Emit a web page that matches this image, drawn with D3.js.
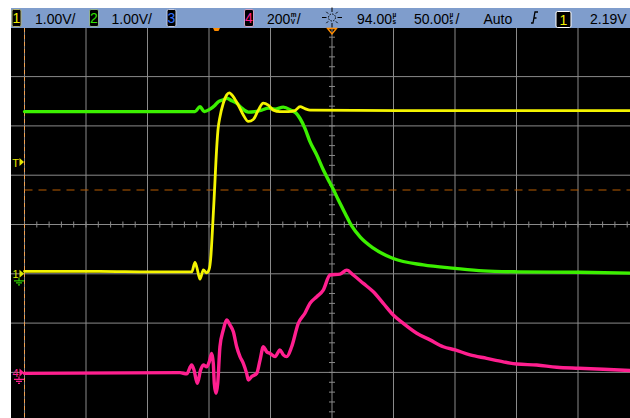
<!DOCTYPE html>
<html>
<head>
<meta charset="utf-8">
<script src="https://cdn.jsdelivr.net/npm/d3@7"></script>
<style>
  html, body { margin: 0; padding: 0; background: #fff; }
  svg { display: block; }
  text { font-family: "Liberation Sans", Arial, sans-serif; }
</style>
</head>
<body>
<div id="scope"></div>
<script>
// time in microseconds relative to screen centre, 50 us/div
const ch1Time = [-250, -189, -148, -114, -111.4, -109.8, -107.3, -104.6, -101.9, -100, -98.4, -97.2, -95.9, -95.1, -94.3, -92.7, -91.1, -88.4, -85.6, -83.5, -80.2, -76.2, -72.1, -68, -64, -59.9, -55.9, -51.8, -47.7, -42.3, -35.5, -30.1, -26, -22, -17.9, 55, 137, 250];
const ch1Volts = [0.05, 0.05, 0.04, 0.04, 0.23, 0.12, -0.11, 0.08, 0.02, 0.08, 0.38, 0.89, 1.5, 1.9, 2.31, 2.92, 3.18, 3.46, 3.63, 3.67, 3.59, 3.42, 3.22, 3.09, 3.13, 3.32, 3.46, 3.42, 3.32, 3.29, 3.29, 3.31, 3.39, 3.35, 3.32, 3.31, 3.31, 3.31];

const ch2Time = [-250, -148, -111.4, -107.3, -103.9, -99.2, -95.1, -92.4, -88.4, -85.6, -81.5, -77.5, -73.4, -68, -62.6, -57.2, -51.8, -46.3, -39.6, -32.8, -29.3, -26, -22, -17.9, -12.4, -7.1, -1.6, 1.1, 5.1, 10.6, 16, 22.8, 33.6, 49.8, 74.2, 100.2, 123, 150.4, 200.6, 250];
const ch2Volts = [3.29, 3.29, 3.29, 3.39, 3.29, 3.34, 3.42, 3.49, 3.53, 3.56, 3.51, 3.46, 3.36, 3.28, 3.29, 3.32, 3.36, 3.34, 3.38, 3.31, 3.26, 3.15, 2.95, 2.68, 2.41, 2.11, 1.84, 1.71, 1.5, 1.23, 0.97, 0.75, 0.52, 0.31, 0.18, 0.11, 0.06, 0.04, 0.03, 0.01];

const ch4Time = [-250, -123.6, -118.1, -114.1, -112.2, -109.5, -106.8, -104.6, -101.9, -99.8, -97.8, -96.5, -95.7, -94.3, -92.9, -91.1, -88.4, -85.6, -82.9, -80.2, -77.5, -74.8, -72.1, -69.4, -68, -65.3, -61.2, -58.5, -55.8, -53.1, -50.4, -46.3, -42.3, -39.6, -36.8, -32.8, -27.4, -22, -17.9, -12.4, -7.1, -1.6, 6.5, 12, 17.3, 25.5, 33.6, 41.7, 49.8, 58, 68.9, 79.7, 90.5, 100.2, 112.2, 125.8, 139.3, 150.4, 166.4, 182.7, 200.6, 220.6, 250];
const ch4MilliVolts = [-4, -1, -6, 30, 10, -44, 10, 30, 23, 43, 77, 37, -44, -85, -44, 104, 172, 213, 192, 165, 104, 64, 37, -4, -31, -17, -4, 50, 104, 84, 77, 64, 91, 71, 64, 104, 199, 240, 280, 307, 334, 395, 399, 415, 395, 361, 327, 280, 233, 199, 159, 132, 104, 91, 71, 57, 43, 34, 30, 21, 17, 13, 6];

// header readout: text, stacked unit (top/bottom), trailing slash
const headerTexts = [
  { text: "1.00V/", x: 35 },
  { text: "1.00V/", x: 111.5 },
  { text: "200", x: 267, unit: ["m", "V"], slash: true },
  { text: "94.00", x: 357, unit: ["µ", "s"] },
  { text: "50.00", x: 414, unit: ["µ", "s"], slash: true },
  { text: "Auto", x: 483.5 },
  { text: "2.19V", x: 590 }
];

const W = 630, H = 418;
const svg = d3.select("#scope").append("svg").attr("width", W).attr("height", H);

svg.append("rect").attr("width", W).attr("height", H).attr("fill", "#fff");
svg.append("rect").attr("x", 11).attr("y", 28).attr("width", W - 11).attr("height", H - 28).attr("fill", "#000");

// scales: 10 x 50us horizontally, 8 divisions vertically
const xScale = d3.scaleLinear().domain([-250, 250]).range([24.5, 639.5]);
const yDiv = d3.scaleLinear().domain([-4, 4]).range([421.7, 27.3]);

const grid = svg.append("g");
d3.range(-5, 6).forEach(i => {
  grid.append("line")
    .attr("x1", xScale(i * 50)).attr("x2", xScale(i * 50))
    .attr("y1", 28).attr("y2", H)
    .attr("stroke", "#8a8a8a").attr("stroke-width", 1);
});
d3.range(-4, 5).forEach(i => {
  grid.append("line")
    .attr("x1", 11).attr("x2", W)
    .attr("y1", yDiv(i)).attr("y2", yDiv(i))
    .attr("stroke", "#8a8a8a").attr("stroke-width", 1);
});
// minor ticks on centre axes
d3.range(-25, 26).forEach(i => {
  const px = xScale(i * 10);
  grid.append("line").attr("x1", px).attr("x2", px)
    .attr("y1", yDiv(0) - 3).attr("y2", yDiv(0) + 3)
    .attr("stroke", "#8a8a8a");
});
d3.range(-20, 21).forEach(i => {
  const py = yDiv(i / 5);
  grid.append("line").attr("x1", xScale(0) - 3).attr("x2", xScale(0) + 3)
    .attr("y1", py).attr("y2", py)
    .attr("stroke", "#8a8a8a");
});

// left edge dashed orange (time reference) and trigger level line
svg.append("line").attr("x1", xScale(-250)).attr("x2", xScale(-250))
  .attr("y1", 28).attr("y2", H)
  .attr("stroke", "#f0a050").attr("stroke-width", 1).attr("stroke-dasharray", "4,3");
svg.append("line").attr("x1", 24.5).attr("x2", W)
  .attr("y1", 190).attr("y2", 190)
  .attr("stroke", "#b85c00").attr("stroke-width", 1.2).attr("stroke-dasharray", "8,6");

// traces
function trace(times, vals, toDiv, color, width) {
  const pts = times.map((t, i) => [t, toDiv(vals[i])]);
  const line = d3.line()
    .x(d => xScale(d[0]))
    .y(d => yDiv(d[1]))
    .curve(d3.curveMonotoneX);
  svg.append("path").datum(pts)
    .attr("d", line)
    .attr("fill", "none")
    .attr("stroke", color)
    .attr("stroke-width", width)
    .attr("stroke-linejoin", "round")
    .attr("stroke-linecap", "round");
}

trace(ch4Time, ch4MilliVolts, v => v / 200 - 3, "#ff1f8f", 3.4);
trace(ch2Time, ch2Volts, v => v / 1 - 1, "#3cf000", 3.4);
trace(ch1Time, ch1Volts, v => v / 1 - 1, "#f4f400", 2.8);

// header bar
svg.append("rect").attr("x", 11).attr("y", 8).attr("width", W - 11).attr("height", 20).attr("fill", "#7f9dcc");

function chanBox(x, y, w, h, label, color, border) {
  svg.append("rect").attr("x", x).attr("y", y).attr("width", w).attr("height", h)
    .attr("rx", 1.5).attr("fill", "#000").attr("stroke", border).attr("stroke-width", 1);
  svg.append("text").attr("x", x + w / 2).attr("y", y + h / 2 + 5)
    .attr("text-anchor", "middle").attr("font-size", 14).attr("fill", color).text(label);
}
chanBox(12, 9.5, 9, 17, "1", "#f0f000", "#b0b070");
chanBox(89.5, 9.5, 9, 17, "2", "#30e000", "#90b090");
chanBox(167, 9.5, 9, 17, "3", "#3070ff", "#c0c8e0");
chanBox(244.5, 9.5, 9, 17, "4", "#ff2090", "#d0a0c0");
chanBox(556, 11.5, 15, 16, "1", "#f0f000", "#ffffff");

headerTexts.forEach(h => {
  const t = svg.append("text").attr("x", h.x).attr("y", 24).attr("font-size", 14).attr("fill", "#000").text(h.text);
  if (h.unit) {
    const end = h.x + t.node().getComputedTextLength() + 0.5;
    svg.append("text").attr("x", end).attr("y", 17).attr("font-size", 6.5).attr("font-weight", "bold").text(h.unit[0]);
    svg.append("text").attr("x", end).attr("y", 24).attr("font-size", 6.5).attr("font-weight", "bold").text(h.unit[1]);
    if (h.slash) {
      svg.append("text").attr("x", end + 6).attr("y", 24).attr("font-size", 14).text("/");
    }
  }
});

// trigger position (sun) icon
const sun = svg.append("g").attr("transform", "translate(332,17.5)");
sun.append("circle").attr("r", 3.5).attr("fill", "none").attr("stroke", "#000").attr("stroke-dasharray", "1.5,1.2");
d3.range(8).forEach(i => {
  const a = i * Math.PI / 4;
  sun.append("line")
    .attr("x1", Math.cos(a) * 5.5).attr("y1", Math.sin(a) * 5.5)
    .attr("x2", Math.cos(a) * (i % 2 ? 8 : 10)).attr("y2", Math.sin(a) * (i % 2 ? 8 : 10))
    .attr("stroke", "#000").attr("stroke-width", 1);
});

// trigger slope icon
svg.append("path").attr("d", "M531,23 L533,23 L535,12 L538,12 M533.5,18 L536.5,18")
  .attr("fill", "none").attr("stroke", "#000").attr("stroke-width", 1.3);

// top markers
svg.append("path").attr("d", "M213,28 L220,28 L218.5,31 L214.5,31 Z").attr("fill", "#ff8c00");
svg.append("path").attr("d", "M327.5,28.5 L336.5,28.5 L332,34 Z").attr("fill", "none").attr("stroke", "#ff8c00").attr("stroke-width", 1.4);

// left channel markers
function leftMarker(y, label, color) {
  svg.append("text").attr("x", 15.5).attr("y", y + 4.5).attr("text-anchor", "middle")
    .attr("font-size", 11).attr("fill", color).text(label);
  svg.append("path").attr("d", `M19.5,${y - 4} L24,${y} L19.5,${y + 4} Z`).attr("fill", color);
}
function groundSym(y, color) {
  svg.append("path").attr("d", `M19,${y - 3} L19,${y} M14,${y} L24,${y} M16,${y + 2} L22,${y + 2} M18,${y + 4} L20,${y + 4}`)
    .attr("stroke", color).attr("stroke-width", 1.2).attr("fill", "none");
}
leftMarker(162, "T", "#e8e800");
leftMarker(yDiv(-1), "1", "#d8e800");
groundSym(yDiv(-1) + 7, "#30d000");
leftMarker(yDiv(-3), "4", "#ff2090");
groundSym(yDiv(-3) + 7, "#ff2090");
</script>
</body>
</html>
